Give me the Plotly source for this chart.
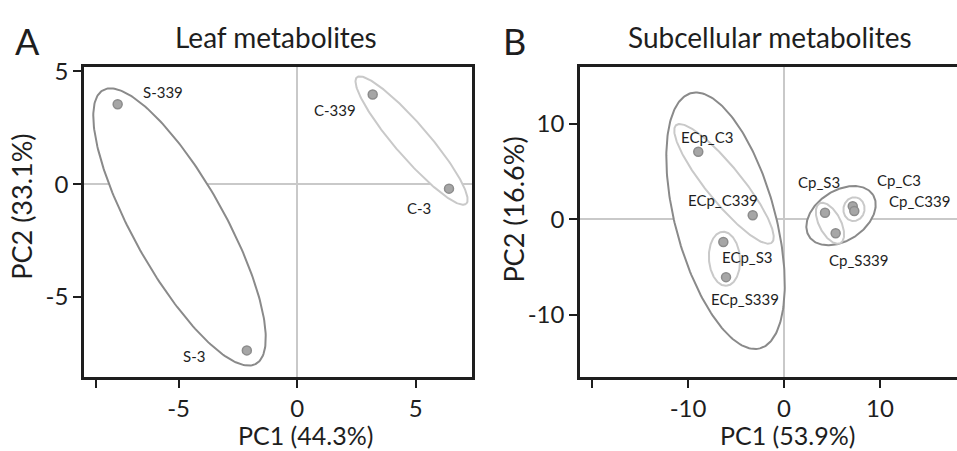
import numpy as np
import plotly.graph_objects as go

FONT = "Lato"
TXT = "#1e1e1e"
DARK = "#8a8a8a"
LIGHT = "#c9c9c9"

# ---------------- Panel A data ----------------
a_names = ["S-339", "S-3", "C-339", "C-3"]
a_pc1 = [-7.57, -2.12, 3.19, 6.41]
a_pc2 = [3.54, -7.37, 3.97, -0.20]
a_lab_x = [-5.65, -4.37, 1.60, 5.15]
a_lab_y = [4.10, -7.64, 3.28, -1.08]

# ellipses: centre x, centre y, semi-major, semi-minor, angle (deg), tone
a_ell_cx = [-4.96, 4.83]
a_ell_cy = [-1.90, 1.93]
a_ell_a = [6.87, 3.63]
a_ell_b = [1.95, 0.72]
a_ell_ang = [-62.2, -50.7]
a_ell_tone = ["dark", "light"]

# ---------------- Panel B data ----------------
b_names = ["ECp_C3", "ECp_C339", "ECp_S3", "ECp_S339",
           "Cp_S3", "Cp_C3", "Cp_C339", "Cp_S339"]
b_pc1 = [-8.93, -3.26, -6.32, -6.04, 4.27, 7.16, 7.32, 5.38]
b_pc2 = [7.09, 0.43, -2.37, -6.06, 0.69, 1.38, 0.87, -1.45]
b_lab_x = [-8.02, -6.35, -3.80, -4.11, 3.65, 11.95, 14.13, 7.85]
b_lab_y = [8.62, 1.99, -3.93, -8.32, 3.93, 4.10, 1.89, -4.23]

b_ell_cx = [-6.09, -6.25, -6.20, 5.94, 4.79, 7.29]
b_ell_cy = [-0.15, 3.72, -4.13, 0.39, -0.41, 1.07]
b_ell_a = [13.85, 7.92, 2.84, 3.98, 2.35, 1.25]
b_ell_b = [5.20, 1.86, 1.62, 2.62, 1.13, 1.10]
b_ell_ang = [-75.0, -51.1, -86.0, 33.8, -62.7, 80.0]
b_ell_tone = ["dark", "light", "light", "dark", "light", "light"]

fig = go.Figure()


def add_ellipses(cx, cy, a, b, ang, tone, xa, ya):
    t = np.linspace(0, 2 * np.pi, 240)
    for i in range(len(cx)):
        th = np.deg2rad(ang[i])
        ex = cx[i] + a[i] * np.cos(t) * np.cos(th) - b[i] * np.sin(t) * np.sin(th)
        ey = cy[i] + a[i] * np.cos(t) * np.sin(th) + b[i] * np.sin(t) * np.cos(th)
        fig.add_trace(go.Scatter(
            x=ex, y=ey, mode="lines", fill="toself", fillcolor="white",
            line=dict(color=DARK if tone[i] == "dark" else LIGHT, width=2),
            xaxis=xa, yaxis=ya, hoverinfo="skip", showlegend=False))


def add_points(px, py, names, xa, ya):
    fig.add_trace(go.Scatter(
        x=px, y=py, mode="markers", text=names,
        marker=dict(size=9, color="#a6a6a6", line=dict(color="#8c8c8c", width=1.5)),
        xaxis=xa, yaxis=ya, showlegend=False))


add_ellipses(a_ell_cx, a_ell_cy, a_ell_a, a_ell_b, a_ell_ang, a_ell_tone, "x", "y")
add_points(a_pc1, a_pc2, a_names, "x", "y")
add_ellipses(b_ell_cx, b_ell_cy, b_ell_a, b_ell_b, b_ell_ang, b_ell_tone, "x2", "y2")
add_points(b_pc1, b_pc2, b_names, "x2", "y2")

ann = []
for n, lx, ly in zip(a_names, a_lab_x, a_lab_y):
    ann.append(dict(x=lx, y=ly, xref="x", yref="y", text=n, showarrow=False,
                    font=dict(family=FONT, size=15, color=TXT)))
for n, lx, ly in zip(b_names, b_lab_x, b_lab_y):
    ann.append(dict(x=lx, y=ly, xref="x2", yref="y2", text=n, showarrow=False,
                    font=dict(family=FONT, size=15, color=TXT)))

W, H = 957, 451


def paper(px, py):
    return px / W, 1 - py / H


def add_text(text, px, py, size, angle=0, yanchor="middle"):
    x, y = paper(px, py)
    ann.append(dict(x=x, y=y, xref="paper", yref="paper", text=text, showarrow=False,
                    xanchor="center", yanchor=yanchor, textangle=angle, borderpad=0,
                    font=dict(family=FONT, size=size, color=TXT)))


add_text("A", 27, 30, 36)
add_text("B", 514, 30, 36)
add_text("Leaf metabolites", 276, 26, 28)
add_text("Subcellular metabolites", 770, 26, 28)
add_text("PC1 (44.3%)", 305, 451, 25, yanchor="bottom")
add_text("PC1 (53.9%)", 787, 451, 25, yanchor="bottom")
add_text("PC2 (33.1%)", 22, 200, 27, -90)
add_text("PC2 (16.6%)", 514, 203, 27, -90)

axis_common = dict(
    showgrid=False, zeroline=True, zerolinecolor=LIGHT, zerolinewidth=2,
    showline=True, linecolor="#1e1e1e", linewidth=2.5,
    ticks="outside", ticklen=8, tickwidth=2, tickcolor="#1e1e1e",
    tickfont=dict(family=FONT, size=24, color=TXT), fixedrange=True,
)

ydom = [1 - 375 / H, 1 - 57 / H]
fig.update_layout(
    width=W, height=H, margin=dict(l=0, r=0, t=0, b=0),
    paper_bgcolor="white", plot_bgcolor="white",
    annotations=ann,
    xaxis=dict(domain=[84 / W, 472 / W], range=[-8.99, 7.38], mirror=True,
               tickvals=[-8.5, -5, 0, 5], ticktext=["", "-5", "0", "5"], **axis_common),
    yaxis=dict(domain=ydom, range=[-8.55, 5.17], mirror=True,
               tickvals=[5, 0, -5], ticktext=["5", "0", "-5"], **axis_common),
    xaxis2=dict(domain=[580 / W, 1.0], range=[-21.25, 18.02], mirror=True, anchor="y2",
                tickvals=[-20, -10, 0, 10], ticktext=["", "-10", "0", "10"], **axis_common),
    yaxis2=dict(domain=ydom, range=[-16.53, 15.92], mirror=False, anchor="x2",
                tickvals=[10, 0, -10], ticktext=["10", "0", "-10"], **axis_common),
)

fig.write_html("out.html")
